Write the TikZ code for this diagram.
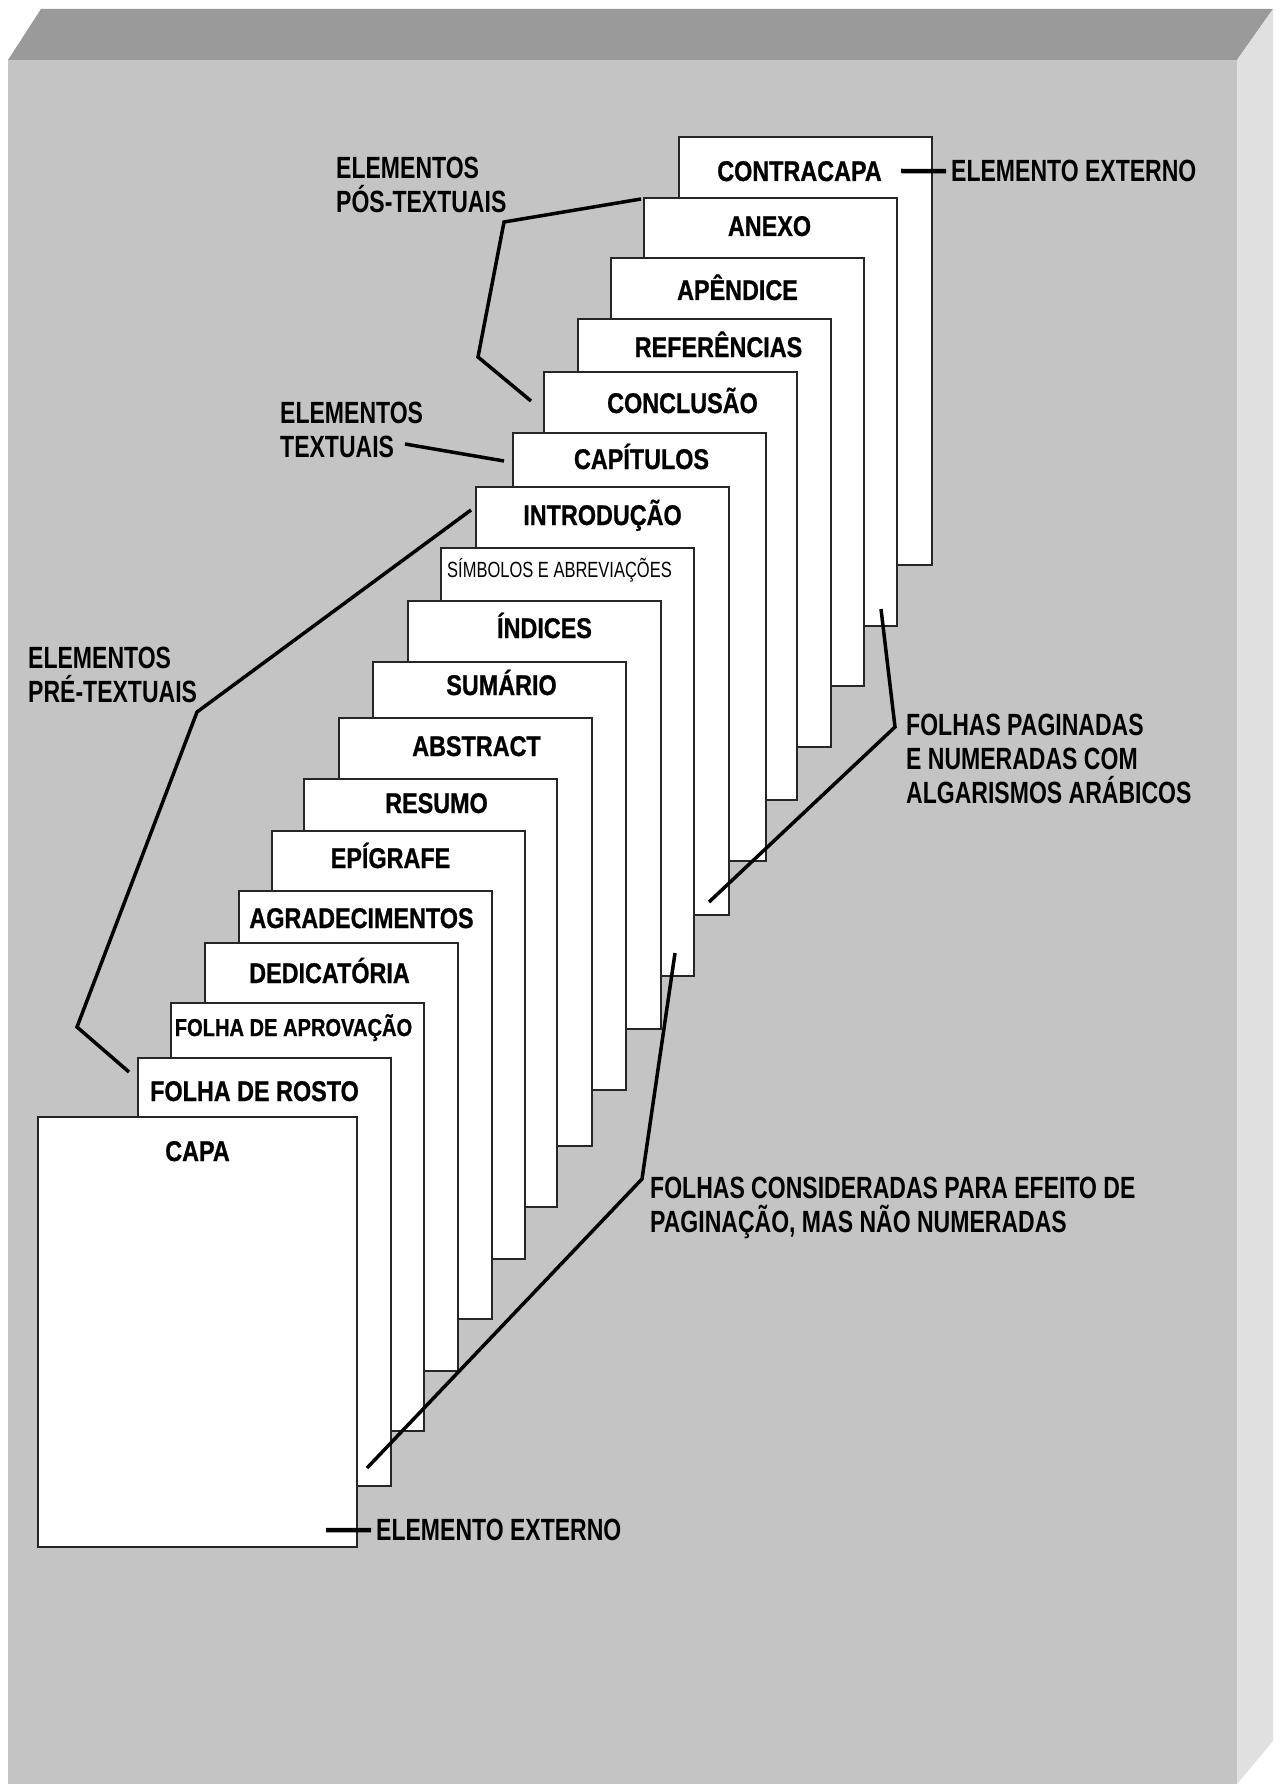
\documentclass[tikz,border=0pt]{standalone}
\usepackage{fontspec}
\newfontfamily\pagefont[FakeStretch=0.82, FakeBold=0.8]{Liberation Sans}
\newfontfamily\notefont[FakeStretch=0.75]{Liberation Sans}
\newcommand{\smalltag}{\notefont\mdseries\fontsize{22pt}{24pt}\selectfont}
\newcommand{\midtag}{\fontsize{24.5pt}{28pt}\selectfont}
\definecolor{wallfront}{HTML}{C4C4C4}
\definecolor{walltop}{HTML}{9A9A9A}
\definecolor{wallside}{HTML}{E0E0E0}
\tikzset{
    sheet/.style={draw=black!85, fill=white, line width=2.5pt, inner sep=0pt, outer sep=0pt,
        minimum width=253pt, minimum height=428pt, anchor=north west},
    sheettitle/.style={anchor=base, inner sep=0pt,
        font=\pagefont\bfseries\fontsize{28.5pt}{32pt}\selectfont},
    note/.style={anchor=north west, inner sep=0pt, align=left,
        font=\notefont\bfseries\fontsize{30.7pt}{34pt}\selectfont},
    lead/.style={line width=3.5pt, black},
    extlead/.style={line width=4.5pt, black},
}

\begin{document}
\begin{tikzpicture}[x=1pt, y=-1pt]
\useasboundingbox (0,0) rectangle (1280,1784);
% the wall behind
\fill[white] (0,0) rectangle (1280,1784);
\fill[wallfront] (8,60) rectangle (1237,1784);
\fill[walltop] (8,60) -- (41,9) -- (1273,9) -- (1237,60) -- cycle;
\fill[wallside] (1237,60) -- (1273,9) -- (1273,1741) -- (1237,1784) -- cycle;

% sheets, back to front
\foreach \n/\l/\t/\dx/\dy/\txt in {
    18/679/137/-6/44/CONTRACAPA,
    17/644/198/-1/38/ANEXO,
    16/611/258/0/42/APÊNDICE,
    15/578/319/14/38/REFERÊNCIAS,
    14/544/372/12/41/CONCLUSÃO,
    13/513/433/2/36/CAPÍTULOS,
    12/476/487/0/38/INTRODUÇÃO,
    11/441/548/-8/29/\smalltag SÍMBOLOS E ABREVIAÇÕES,
    10/408/601/10/37/ÍNDICES,
    9/373/662/2/33/SUMÁRIO,
    8/339/718/11/38/ABSTRACT,
    7/304/779/6/34/RESUMO,
    6/272/831/-8/37/EPÍGRAFE,
    5/239/891/-4/37/AGRADECIMENTOS,
    4/205/943/-2/40/DEDICATÓRIA,
    3/171/1003/-4/33/\midtag FOLHA DE APROVAÇÃO,
    2/138/1058/-10/43/FOLHA DE ROSTO}{
    \node[sheet] (p\n) at (\l,\t) {};
    \node[sheettitle] (t\n) at ([xshift=\dx pt, yshift=-\dy pt]p\n.north) {\txt};
}
\node[sheet, minimum width=319pt, minimum height=430pt] (p1) at (38,1117) {};
\node[sheettitle] (t1) at ([yshift=-44pt]p1.north) {CAPA};

% notes
\node[note] (ee1) at (951,160) {ELEMENTO EXTERNO};
\node[note] (pos) at (336,157) {ELEMENTOS\\PÓS-TEXTUAIS};
\node[note] (txt) at (280,402) {ELEMENTOS\\TEXTUAIS};
\node[note] (pre) at (28,647) {ELEMENTOS\\PRÉ-TEXTUAIS};
\node[note] (pag) at (906,714) {FOLHAS PAGINADAS\\E NUMERADAS COM\\ALGARISMOS ARÁBICOS};
\node[note] (cons) at (650,1177) {FOLHAS CONSIDERADAS PARA EFEITO DE\\PAGINAÇÃO, MAS NÃO NUMERADAS};
\node[note] (ee2) at (376,1519) {ELEMENTO EXTERNO};

% leader lines
\path (901,171) coordinate (k18) (326,1530) coordinate (k1);
\path (641,199) coordinate (pos1) (504,222) coordinate (pos2) (478,357) coordinate (pos3) (531,401) coordinate (pos4);
\path (405,444) coordinate (txt1) (504,461) coordinate (txt2);
\path (471,510) coordinate (pre1) (197,712) coordinate (pre2) (77,1027) coordinate (pre3) (129,1072) coordinate (pre4);
\path (881,609) coordinate (pag1) (895,727) coordinate (pag2) (709,902) coordinate (pag3);
\path (675,953) coordinate (cons1) (642,1179) coordinate (cons2) (367,1468) coordinate (cons3);

\draw[extlead] (k18) -- ([xshift=-5pt]ee1.west);
\draw[extlead] (k1) -- ([xshift=-5pt]ee2.west);
\draw[lead] (pos1) -- (pos2) -- (pos3) -- (pos4);
\draw[lead] (txt1) -- (txt2);
\draw[lead] (pre1) -- (pre2) -- (pre3) -- (pre4);
\draw[lead] (pag1) -- (pag2) -- (pag3);
\draw[lead] (cons1) -- (cons2) -- (cons3);
\end{tikzpicture}
\end{document}
